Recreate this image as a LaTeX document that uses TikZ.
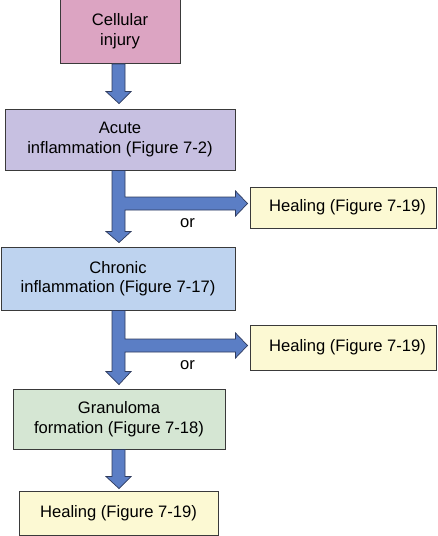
\documentclass[tikz,border=0pt]{standalone}
\usepackage{fontspec}
\setmainfont{Liberation Sans}
\usetikzlibrary{calc}
\definecolor{pinkc}{HTML}{DCA4C2}
\definecolor{lavc}{HTML}{C7C0E1}
\definecolor{bluec}{HTML}{BED3EF}
\definecolor{greenc}{HTML}{D5E6D3}
\definecolor{yelc}{HTML}{FCF9D3}
\definecolor{arrowblue}{HTML}{5B7EC5}
\definecolor{arrowline}{HTML}{2E3B5E}
\definecolor{boxline}{HTML}{3A3A3A}
\begin{document}
\begin{tikzpicture}[x=1pt,y=-1pt,
  box/.style={draw=boxline, line width=0.9pt, inner sep=0pt, align=center,
    font=\fontsize{16.6}{19.5}\selectfont},
  flow/.style={fill=arrowblue, draw=arrowline, line width=0.7pt, line join=miter},
  lbl/.style={font=\fontsize{16.6}{19.5}\selectfont, inner sep=0pt}]
\useasboundingbox (0,0) rectangle (437,536);
\node[box, fill=pinkc, minimum width=120pt, minimum height=65pt] (inj) at (120,31) {Cellular\\injury};
\node[box, fill=lavc, minimum width=230pt, minimum height=61pt] (acute) at (120,139.5) {Acute\\inflammation (Figure 7-2)};
\node[box, fill=yelc, minimum width=186pt, minimum height=41pt] (heal1) at (343,207.5) {\hspace{9pt}Healing (Figure 7-19)};
\node[box, fill=bluec, minimum width=234pt, minimum height=63pt] (chronic) at (118,278.5) {Chronic\\inflammation (Figure 7-17)};
\node[box, fill=yelc, minimum width=186pt, minimum height=45pt] (heal2) at (343,347.5) {\hspace{9pt}Healing (Figure 7-19)};
\node[box, fill=greenc, minimum width=212pt, minimum height=60pt] (gran) at (119,419) {Granuloma\\formation (Figure 7-18)};
\node[box, fill=yelc, minimum width=199pt, minimum height=44pt] (heal3) at (118.5,513) {Healing (Figure 7-19)};
\node[lbl] (or1) at (187.5,223) {or};
\node[lbl] (or2) at (187.5,365) {or};
% arrow 1
\draw[flow] ($(inj.south)+(-8,0)$) -- ($(inj.south |- acute.north)+(-8,-17)$)
  -- ($(inj.south |- acute.north)+(-14,-17)$) -- ($(inj.south |- acute.north)+(-1,-5)$)
  -- ($(inj.south |- acute.north)+(11,-17)$) -- ($(inj.south |- acute.north)+(5,-17)$)
  -- ($(inj.south)+(5,0)$) -- cycle;
% branch 1
\draw[flow] ($(acute.south)+(-8,0)$) -- ($(acute.south |- chronic.north)+(-8,-15)$)
  -- ($(acute.south |- chronic.north)+(-14,-15)$) -- ($(acute.south |- chronic.north)+(-1,-4)$)
  -- ($(acute.south |- chronic.north)+(11,-15)$) -- ($(acute.south |- chronic.north)+(5,-15)$)
  -- ($(acute.south |- heal1.west)+(5,2.5)$) -- ($(heal1.west)+(-14,2.5)$)
  -- ($(heal1.west)+(-14,8.5)$) -- ($(heal1.west)+(-2,-4)$)
  -- ($(heal1.west)+(-14,-16.5)$) -- ($(heal1.west)+(-14,-10.5)$)
  -- ($(acute.south |- heal1.west)+(5,-10.5)$) -- ($(acute.south)+(5,0)$) -- cycle;
% branch 2
\draw[flow] ($(acute.south |- chronic.south)+(-8,0)$) -- ($(acute.south |- gran.north)+(-8,-17)$)
  -- ($(acute.south |- gran.north)+(-14,-17)$) -- ($(acute.south |- gran.north)+(-1,-4)$)
  -- ($(acute.south |- gran.north)+(11,-17)$) -- ($(acute.south |- gran.north)+(5,-17)$)
  -- ($(acute.south |- heal2.west)+(5,4.5)$) -- ($(heal2.west)+(-14,4.5)$)
  -- ($(heal2.west)+(-14,10.5)$) -- ($(heal2.west)+(-2,-2)$)
  -- ($(heal2.west)+(-14,-14.5)$) -- ($(heal2.west)+(-14,-8.5)$)
  -- ($(acute.south |- heal2.west)+(5,-8.5)$) -- ($(acute.south |- chronic.south)+(5,0)$) -- cycle;
% arrow 4
\draw[flow] ($(acute.south |- gran.south)+(-8,0)$) -- ($(acute.south |- heal3.north)+(-8,-14)$)
  -- ($(acute.south |- heal3.north)+(-14,-14)$) -- ($(acute.south |- heal3.north)+(-1,-2)$)
  -- ($(acute.south |- heal3.north)+(11,-14)$) -- ($(acute.south |- heal3.north)+(5,-14)$)
  -- ($(acute.south |- gran.south)+(5,0)$) -- cycle;
\end{tikzpicture}
\end{document}
